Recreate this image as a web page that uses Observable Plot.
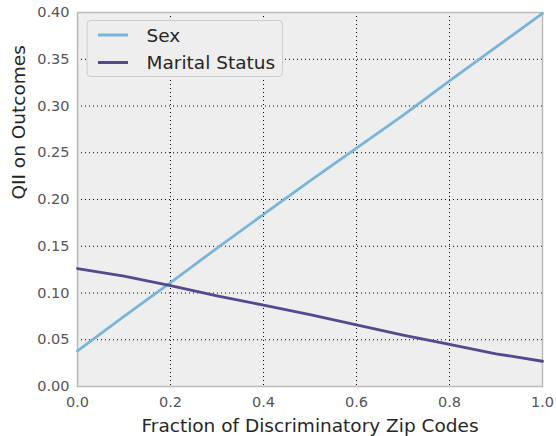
<!DOCTYPE html>
<html>
<head>
<meta charset="utf-8">
<script src="https://cdn.jsdelivr.net/npm/d3@7"></script>
<script src="https://cdn.jsdelivr.net/npm/@observablehq/plot@0.6"></script>
<style>
  html, body { margin: 0; padding: 0; background: #fff; }
  #wrap { position: relative; width: 556px; height: 436px; font-family: "DejaVu Sans", sans-serif; }
  #legend { position: absolute; left: 0; top: 0; pointer-events: none; }
</style>
</head>
<body>
<div id="wrap">
  <div id="chart"></div>
  <svg id="legend" width="556" height="436"></svg>
</div>
<script>
const xValues = [0.0, 0.1, 0.2, 0.3, 0.4, 0.5, 0.6, 0.7, 0.8, 0.9, 1.0];
const sexValues = [0.038, 0.075, 0.111, 0.148, 0.184, 0.220, 0.255, 0.290, 0.327, 0.363, 0.399];
const maritalValues = [0.126, 0.118, 0.108, 0.097, 0.087, 0.077, 0.066, 0.055, 0.045, 0.035, 0.027];
const seriesNames = ["Sex", "Marital Status"];
const seriesColors = ["#7ab4d8", "#56488e"];
const xTicks = [0, 0.2, 0.4, 0.6, 0.8, 1.0];
const yTicks = [0, 0.05, 0.10, 0.15, 0.20, 0.25, 0.30, 0.35, 0.40];
const xLabel = "Fraction of Discriminatory Zip Codes";
const yLabel = "QII on Outcomes";

const rows = [];
xValues.forEach((x, i) => rows.push({x, y: sexValues[i], s: seriesNames[0]}));
xValues.forEach((x, i) => rows.push({x, y: maritalValues[i], s: seriesNames[1]}));

const chart = Plot.plot({
  width: 556, height: 436,
  marginLeft: 77, marginRight: 14, marginTop: 12, marginBottom: 50,
  style: {fontFamily: "DejaVu Sans, sans-serif", background: "#fff"},
  x: {domain: [0, 1]},
  y: {domain: [0, 0.4]},
  color: {domain: seriesNames, range: seriesColors},
  marks: [
    Plot.frame({fill: "#eeeeee"}),
    Plot.gridX(xTicks, {stroke: "#000", strokeOpacity: 1, strokeDasharray: "1,3", strokeWidth: 1}),
    Plot.gridY(yTicks, {stroke: "#000", strokeOpacity: 1, strokeDasharray: "1,3", strokeWidth: 1}),
    Plot.frame({stroke: "#bbbbbb", strokeWidth: 1.5}),
    Plot.line(rows, {x: "x", y: "y", z: "s", stroke: "s", strokeWidth: 2.8}),
    Plot.axisX(xTicks, {tickSize: 0, tickPadding: 10, tickFormat: d3.format(".1f"), fontSize: 14.5, fill: "#555", label: null}),
    Plot.axisY(yTicks, {tickSize: 0, tickPadding: 8, tickFormat: d3.format(".2f"), fontSize: 14.5, fill: "#555", label: null}),
    Plot.text([xLabel], {frameAnchor: "bottom", lineAnchor: "middle", dy: 40, fontSize: 18.5, fill: "#262626"}),
    Plot.text([yLabel], {frameAnchor: "left", lineAnchor: "middle", dx: -58, rotate: -90, fontSize: 18.5, fill: "#262626"})
  ]
});
document.getElementById("chart").appendChild(chart);

// legend overlay
const lg = d3.select("#legend");
lg.append("rect").attr("x", 87).attr("y", 20.5).attr("width", 195.5).attr("height", 56)
  .attr("rx", 4).attr("fill", "#eeeeee").attr("stroke", "#cccccc").attr("stroke-width", 1);
seriesNames.forEach((name, i) => {
  const cy = i === 0 ? 35 : 62.5;
  lg.append("line").attr("x1", 98).attr("x2", 128).attr("y1", cy).attr("y2", cy)
    .attr("stroke", seriesColors[i]).attr("stroke-width", 3);
  lg.append("text").attr("x", 146.5).attr("y", i === 0 ? 41.7 : 69)
    .attr("font-family", "DejaVu Sans, sans-serif").attr("font-size", 18.5).attr("fill", "#262626")
    .text(name);
});
</script>
</body>
</html>
